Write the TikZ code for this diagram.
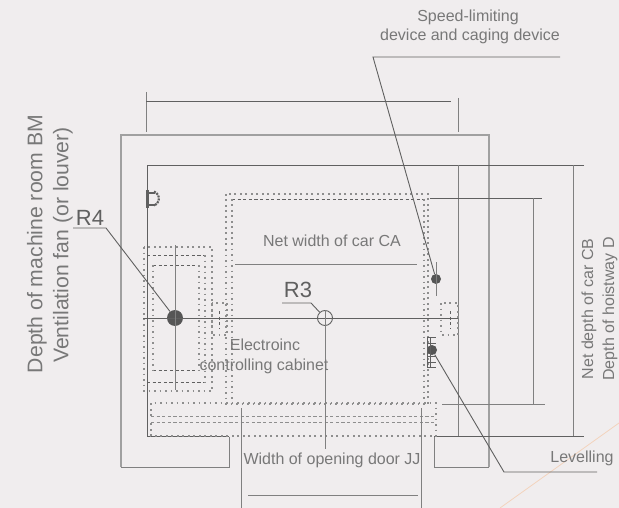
\documentclass[tikz,border=0pt]{standalone}
\usepackage{fontspec}
\setmainfont{Liberation Sans}
\definecolor{bgc}{HTML}{F0EDEE}
\definecolor{wallc}{HTML}{A0A0A0}
\definecolor{dimc}{HTML}{808080}
\definecolor{linec}{HTML}{606060}
\definecolor{txtc}{HTML}{787878}
\definecolor{dotc}{HTML}{8E8E8E}
\definecolor{orng}{HTML}{F3D3BC}
\tikzset{
 wall/.style={draw=wallc,line width=1.5pt},
 thin line/.style={draw=linec,line width=0.9pt},
 dim/.style={draw=dimc,line width=1pt},
 dotted box/.style={draw=dotc,line width=1.3pt,dash pattern=on 1.8pt off 3.7pt},
 dashed box/.style={draw=linec,line width=0.8pt,dash pattern=on 3.2pt off 2.4pt},
 lbl/.style={text=txtc,inner sep=0pt,font=\fontsize{16}{18}\selectfont},
 lblbig/.style={text=txtc,inner sep=0pt,font=\fontsize{21.2}{23}\selectfont,rotate=90},
 rlabel/.style={text=linec,inner sep=0pt,font=\fontsize{22}{24}\selectfont},
 blackdot/.style={circle,fill=#1,draw=none,inner sep=0pt},
}
\begin{document}
\begin{tikzpicture}[x=1pt,y=-1pt]
\path[fill=bgc] (0,0) rectangle (619,508);
\useasboundingbox (0,0) rectangle (619,508);
\draw[orng,line width=0.8pt] (500,508) -- (619,423);
% walls
\draw[dim] (229,437) -- (229,467) -- (121,467);
\draw[wall] (121,467) -- (121,135) -- (489,135) -- (489,467);
\draw[dim] (489,467) -- (434,467) -- (434,436);
\draw[thin line] (584,165) -- (147,165) -- (147,436) -- (229,436);
\draw[thin line] (434,436) -- (584,436);
\draw[dim] (458,165) -- (458,436);
\draw[dim] (573,165) -- (573,436);
% top dimension
\draw[dim] (146,92) -- (146,132);
\draw[dim] (458,98) -- (458,132);
\draw[thin line] (146,101) -- (451,101);
% right dimensions
\draw[thin line] (430,198) -- (542,198);
\draw[dim] (533,198) -- (533,404);
\draw[dim] (442,404) -- (545,404);
% car
\draw[dotted box] (226,194) rectangle (428,404);
\draw[dashed box] (232,199) -- (424,199);
\draw[dotted box] (232,199) -- (232,404);
\draw[dotted box] (424,199) -- (424,404);
% sill
\draw[dotted box] (151,416) -- (151,403) -- (436,403) -- (436,436) -- (151,436) -- (151,422);
\draw[dashed box,draw=dotc] (151,416) -- (436,416);
\draw[dashed box,draw=dotc] (151,422) -- (436,422);
% counterweight
\draw[dotted box] (144,247) rectangle (212,391);
\draw[dashed box] (147,255) -- (205,255);
\draw[dashed box] (147,382) -- (205,382);
\draw[dotted box] (205,255) -- (205,382);
\draw[dashed box] (153,265) -- (199,265);
\draw[dashed box] (153,370) -- (199,370);
\draw[dotted box] (153,265) -- (153,370);
\draw[dotted box] (199,265) -- (199,370);
% guide shoes
\draw[dotted box] (212,303) rectangle (227,335);
\draw[dashed box] (219,311) -- (219,328);
\draw[dotted box] (441,303) rectangle (458,335);
\draw[dashed box] (450,311) -- (450,328);
% fan symbol
\draw[linec,line width=2.2pt] (147.5,190) -- (147.5,208);
\draw[linec,line width=1.3pt] (148,193) -- (155,193) (148,205) -- (155,205);
\draw[linec,line width=2.2pt,dash pattern=on 2pt off 1pt] (154,191.5) arc (-70:70:7.5);
% main axis and centres
\node[blackdot=linec!90!black,minimum size=16pt] (rfour) at (175,318) {};
\node[circle,draw=linec,line width=0.9pt,minimum size=15pt,inner sep=0pt] (rthree) at (325,318) {};
\node[blackdot=linec!90!black,minimum size=10pt] (speed) at (436,279) {};
\node[blackdot=linec!90!black,minimum size=10pt] (level) at (432,350) {};
\draw[thin line] (143,318) -- (458,318);
\draw[dim] (175,245) -- (175,390);
\draw[dim] (325,310) -- (325,449);
\draw[dim] (436,262) -- (436,296);
% levelling symbol
\draw[linec,line width=0.9pt] (427,337) -- (436,337) (427,337) -- (427,367) -- (436,367)
  (430,337) -- (430,367) (427,343) -- (436,343) (427,356) -- (436,356) (427,362) -- (436,362);
% leaders
\coordinate (rfk) at (106,228);
\coordinate (rtk) at (311,303);
\coordinate (spk) at (373,57);
\coordinate (lvk) at (504,472);
\draw[thin line] (73,228) -- (rfk) -- (rfour);
\draw[thin line] (282,303) -- (rtk) -- (rthree);
\draw[thin line] (560,57) -- (spk) -- (speed);
\draw[thin line] (level) -- (lvk) -- (597,472);
% opening dims
\draw[dim] (235,264) -- (417,264);
\draw[dim] (241,408) -- (241,508);
\draw[dim] (421,408) -- (421,508);
\draw[dim] (248,495) -- (418,495);
% labels
\node[lblbig] (a) at (37,244) {Depth of machine room BM};
\node[lblbig] (b) at (63,245) {Ventilation fan (or louver)};
\node[rlabel] (c) at (90,218) {R4};
\node[rlabel] (d) at (298,290) {R3};
\node[lbl] (e) at (468,17) {Speed-limiting};
\node[lbl] (f) at (470,36) {device and caging device};
\node[lbl] (g) at (332,241) {Net width of car CA};
\node[lbl] (h) at (265,345) {Electroinc};
\node[lbl] (i) at (264,366) {controlling cabinet};
\node[lbl] (j) at (332,460) {Width of opening door JJ};
\node[lbl] (k) at (582,458) {Levelling};
\node[lbl,rotate=90] (l) at (589,309) {Net depth of car CB};
\node[lbl,rotate=90] (m) at (610,309) {Depth of hoistway D};
\end{tikzpicture}
\end{document}
